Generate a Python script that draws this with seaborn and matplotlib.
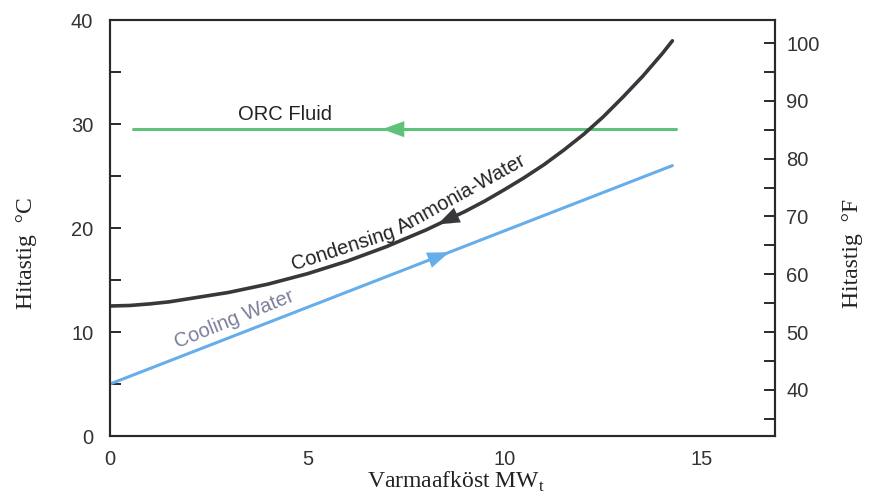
import numpy as np
import pandas as pd
import matplotlib
matplotlib.use("Agg")
import matplotlib.pyplot as plt
from matplotlib.ticker import MultipleLocator
import seaborn as sns

# values (x in MWt, y in degC)
orc_x = [0.58, 14.35]
orc_y = [29.5, 29.5]

ammonia_x = [0, 0.5, 1, 1.5, 2, 2.5, 3, 3.5, 4, 4.5, 5, 5.5, 6, 6.5, 7, 7.5,
             8, 8.5, 9, 9.5, 10, 10.5, 11, 11.5, 12, 12.5, 13, 13.5, 14, 14.25]
ammonia_y = [12.5, 12.55, 12.7, 12.9, 13.2, 13.5, 13.8, 14.2, 14.6, 15.1, 15.6, 16.2,
             16.8, 17.5, 18.2, 19.0, 19.8, 20.7, 21.6, 22.6, 23.7, 24.85, 26.1, 27.5,
             29.0, 30.7, 32.6, 34.6, 36.8, 38.0]

cooling_x = [0, 14.25]
cooling_y = [5.0, 26.0]

x_ticks = [0, 5, 10, 15]
c_ticks = [0, 10, 20, 30, 40]
f_ticks = [40, 50, 60, 70, 80, 90, 100]

sns.set_theme(style="white")
plt.rcParams["font.family"] = ["Liberation Sans", "DejaVu Sans"]
plt.rcParams["mathtext.fontset"] = "custom"
plt.rcParams["mathtext.rm"] = "Liberation Serif"

green = "#5ec27a"
black = "#38383c"
blue = "#66aee9"
edge = "#2a2a2a"

fig = plt.figure(figsize=(8.69, 4.98), dpi=100)
ax = fig.add_axes([110 / 869, 62 / 498, 665 / 869, 416 / 498])

orc = pd.DataFrame({"x": orc_x, "y": orc_y})
amm = pd.DataFrame({"x": ammonia_x, "y": ammonia_y})
cool = pd.DataFrame({"x": cooling_x, "y": cooling_y})

sns.lineplot(data=orc, x="x", y="y", ax=ax, color=green, lw=2.2, sort=False)
sns.lineplot(data=amm, x="x", y="y", ax=ax, color=black, lw=2.6, sort=False)
sns.lineplot(data=cool, x="x", y="y", ax=ax, color=blue, lw=2.2, sort=False)

# arrowheads along each stream
def head(x_tip, x_tail, xs, ys, col):
    ax.annotate("", xy=(x_tip, np.interp(x_tip, xs, ys)),
                xytext=(x_tail, np.interp(x_tail, xs, ys)),
                arrowprops=dict(arrowstyle="-|>,head_length=0.6,head_width=0.22",
                                color=col, lw=0.1, mutation_scale=26,
                                shrinkA=0, shrinkB=0))

head(6.9, 7.7, orc_x, orc_y, green)
head(8.3, 8.9, ammonia_x, ammonia_y, black)
head(8.6, 8.0, cooling_x, cooling_y, blue)

txt = dict(fontsize=14.5, ha="center", va="center", rotation_mode="anchor")
ax.text(4.43, 30.9, "ORC Fluid", color="#222222", **txt)
ax.text(5.92, 18.0, "Condensing", color="#222222", rotation=18, **txt)
ax.text(8.92, 23.25, "Ammonia-Water", color="#222222", rotation=29, **txt)
ax.text(3.14, 11.2, "Cooling Water", color="#7c7e9c", rotation=22, **txt)

ax.set_xlim(0, 16.85)
ax.set_ylim(0, 40)
ax.set_xticks(x_ticks)
ax.xaxis.set_minor_locator(MultipleLocator(1))
ax.set_yticks(c_ticks)
ax.yaxis.set_minor_locator(MultipleLocator(5))
ax.tick_params(axis="both", which="both", direction="in", length=8, width=1.4,
               color=edge, labelsize=14.5, labelcolor="#333333")
ax.tick_params(axis="x", which="both", pad=10, top=False)
ax.tick_params(axis="y", which="both", pad=12, right=False)

lab = dict(fontsize=17, family="Liberation Serif", color="#222222")
ax.set_xlabel("Varmaafköst MW$_\\mathrm{t}$", **lab)
ax.set_ylabel("Hitastig  °C", **lab)
ax.xaxis.set_label_coords(0.52, -0.082)
ax.yaxis.set_label_coords(-0.11, 0.44)

ax2 = ax.twinx()
ax2.set_ylim(0 * 1.8 + 32, 40 * 1.8 + 32)
ax2.set_yticks(f_ticks)
ax2.yaxis.set_minor_locator(MultipleLocator(5))
ax2.tick_params(axis="y", which="both", direction="in", length=8, width=1.4,
                color=edge, labelsize=14.5, labelcolor="#333333", pad=8)
ax2.set_ylabel("Hitastig  °F", **lab)
ax2.yaxis.set_label_coords(1.10, 0.44)

for a in (ax, ax2):
    for s in a.spines.values():
        s.set_color(edge)
        s.set_linewidth(1.5)
    a.grid(False)

fig.savefig("out.png", dpi=100)
